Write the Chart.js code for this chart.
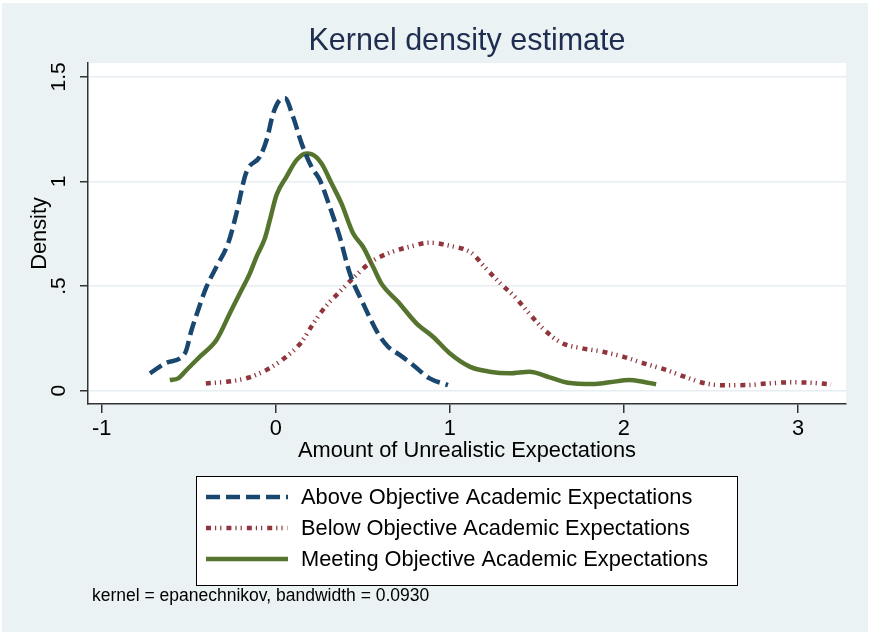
<!DOCTYPE html>
<html>
<head>
<meta charset="utf-8">
<title>Kernel density estimate</title>
<script src="https://cdn.jsdelivr.net/npm/chart.js@4.4.1/dist/chart.umd.min.js"></script>
<style>
  html, body { margin: 0; padding: 0; background: #ffffff; }
  canvas { display: block; }
</style>
</head>
<body>
<canvas id="kdensity" width="869" height="635"></canvas>
<script>
// density curves (x = amount, y = density)
const aboveX = [-0.723, -0.628, -0.522, -0.484, -0.446, -0.398, -0.341, -0.274, -0.226, -0.178,
    -0.159, -0.092, -0.053, -0.015, 0.023, 0.052, 0.099, 0.148, 0.205, 0.253,
    0.310, 0.367, 0.425, 0.501, 0.587, 0.645, 0.712, 0.788, 0.884, 0.989];
const aboveY = [0.083, 0.134, 0.179, 0.290, 0.386, 0.497, 0.592, 0.704, 0.848, 1.022,
    1.063, 1.118, 1.198, 1.325, 1.389, 1.397, 1.309, 1.182, 1.070, 1.007,
    0.879, 0.736, 0.561, 0.418, 0.274, 0.210, 0.171, 0.123, 0.059, 0.027];

const belowX = [-0.402, -0.279, -0.159, -0.048, 0.056, 0.144, 0.210, 0.281, 0.367, 0.453,
    0.549, 0.654, 0.769, 0.884, 1.009, 1.123, 1.206, 1.290, 1.382, 1.458,
    1.544, 1.640, 1.758, 1.879, 1.998, 2.113, 2.233, 2.348, 2.468, 2.587,
    2.711, 2.832, 2.955, 3.075, 3.190];
const belowY = [0.035, 0.043, 0.062, 0.102, 0.160, 0.229, 0.314, 0.397, 0.473, 0.545,
    0.616, 0.659, 0.688, 0.707, 0.691, 0.659, 0.585, 0.513, 0.441, 0.366,
    0.290, 0.229, 0.203, 0.186, 0.162, 0.131, 0.102, 0.067, 0.035, 0.026,
    0.027, 0.035, 0.040, 0.038, 0.030];

const meetingX = [-0.609, -0.561, -0.513, -0.436, -0.341, -0.264, -0.207, -0.149, -0.111, -0.063,
    -0.034, 0.004, 0.061, 0.119, 0.176, 0.205, 0.262, 0.320, 0.377, 0.444,
    0.501, 0.559, 0.606, 0.702, 0.808, 0.903, 0.999, 1.114, 1.228, 1.343,
    1.458, 1.573, 1.678, 1.822, 1.917, 2.032, 2.109, 2.185];
const meetingY = [0.051, 0.059, 0.099, 0.163, 0.242, 0.370, 0.465, 0.561, 0.640, 0.728,
    0.816, 0.935, 1.022, 1.102, 1.134, 1.131, 1.087, 0.991, 0.895, 0.752,
    0.688, 0.592, 0.513, 0.425, 0.322, 0.258, 0.179, 0.115, 0.091, 0.083,
    0.091, 0.064, 0.038, 0.032, 0.040, 0.051, 0.043, 0.031];

const seriesNames = [
    "Above Objective Academic Expectations",
    "Below Objective Academic Expectations",
    "Meeting Objective Academic Expectations",
];
const xTicks = [-1, 0, 1, 2, 3];
const yTicks = [0, 0.5, 1, 1.5];
const titleText = "Kernel density estimate";
const xTitle = "Amount of Unrealistic Expectations";
const yTitle = "Density";
const noteText = "kernel = epanechnikov, bandwidth = 0.0930";

const FONT = "'Liberation Sans', Arial, Helvetica, sans-serif";
const BG = "#eaf2f3";

// pair up x and y arrays into {x, y} points
function toPoints(xs, ys) {
    return xs.map((x, i) => ({ x: x, y: ys[i] }));
}

// stata-style number: .5 instead of 0.5
function stataNum(v) {
    return String(v).replace(/^0\./, ".").replace(/^-0\./, "-.");
}

const styles = [
    { color: "#1a476f", width: 4.5, dash: [14, 6] },
    { color: "#90353b", width: 4.5, dash: [5, 4, 1.2, 4, 1.2, 5] },
    { color: "#55752f", width: 4.5, dash: [] },
];

// background, plot region, title, legend box and note
const stataFrame = {
    id: "stataFrame",
    beforeDraw(chart) {
        const { ctx, chartArea } = chart;
        ctx.save();
        ctx.fillStyle = "#ffffff";
        ctx.fillRect(0, 0, chart.width, chart.height);
        ctx.fillStyle = BG;
        ctx.fillRect(2, 3, 866, 629);
        ctx.fillStyle = "#ffffff";
        ctx.fillRect(chartArea.left, chartArea.top,
            chartArea.right - chartArea.left, chartArea.bottom - chartArea.top);
        ctx.restore();
    },
    afterDraw(chart) {
        const { ctx, chartArea } = chart;
        ctx.save();
        // title
        ctx.fillStyle = "#1e2d50";
        ctx.font = "30.5px " + FONT;
        ctx.textAlign = "center";
        ctx.textBaseline = "middle";
        ctx.fillText(titleText, (chartArea.left + chartArea.right) / 2, 42);

        // legend
        const box = { x: 196, y: 476, w: 541, h: 109 };
        ctx.fillStyle = "#ffffff";
        ctx.fillRect(box.x, box.y, box.w, box.h);
        ctx.strokeStyle = "#000000";
        ctx.lineWidth = 1;
        ctx.strokeRect(box.x + 0.5, box.y + 0.5, box.w, box.h);
        const rows = [497, 528, 559];
        ctx.font = "21.8px " + FONT;
        ctx.textAlign = "left";
        rows.forEach((ry, i) => {
            const s = styles[i];
            ctx.beginPath();
            ctx.strokeStyle = s.color;
            ctx.lineWidth = s.width;
            ctx.lineCap = "butt";
            ctx.setLineDash(s.dash);
            ctx.moveTo(206, ry);
            ctx.lineTo(288, ry);
            ctx.stroke();
            ctx.setLineDash([]);
            ctx.fillStyle = "#000000";
            ctx.fillText(seriesNames[i], 301, ry + 1);
        });

        // note
        ctx.font = "17.5px " + FONT;
        ctx.fillStyle = "#000000";
        ctx.fillText(noteText, 92, 596);
        ctx.restore();
    },
};

const ctx = document.getElementById("kdensity").getContext("2d");

new Chart(ctx, {
    type: "scatter",
    data: {
        datasets: [
            { label: seriesNames[0], data: toPoints(aboveX, aboveY) },
            { label: seriesNames[1], data: toPoints(belowX, belowY) },
            { label: seriesNames[2], data: toPoints(meetingX, meetingY) },
        ].map((d, i) => ({
            ...d,
            showLine: true,
            borderColor: styles[i].color,
            borderWidth: styles[i].width,
            borderDash: styles[i].dash,
            borderCapStyle: "butt",
            pointRadius: 0,
            pointHoverRadius: 0,
            cubicInterpolationMode: "monotone",
            fill: false,
        })),
    },
    options: {
        responsive: false,
        animation: false,
        devicePixelRatio: 1,
        layout: {
            padding: { left: 3, top: 63, right: 23, bottom: 171 },
        },
        plugins: {
            legend: { display: false },
            tooltip: { enabled: false },
        },
        scales: {
            x: {
                type: "linear",
                min: -1.079,
                max: 3.276,
                afterBuildTicks: (scale) => {
                    scale.ticks = xTicks.map((v) => ({ value: v }));
                },
                afterFit: (scale) => {
                    scale.height = 60;
                },
                ticks: {
                    color: "#000000",
                    font: { family: FONT, size: 21.8 },
                    padding: 3,
                    maxRotation: 0,
                    callback: (v) => stataNum(v),
                },
                grid: {
                    drawOnChartArea: false,
                    tickLength: 9,
                    tickColor: "#333333",
                    lineWidth: 1.5,
                },
                border: { color: "#333333", width: 1.5 },
                title: {
                    display: true,
                    text: xTitle,
                    color: "#000000",
                    font: { family: FONT, size: 21.8 },
                    padding: { top: 2, bottom: 0 },
                },
            },
            y: {
                type: "linear",
                min: -0.0635,
                max: 1.566,
                afterBuildTicks: (scale) => {
                    scale.ticks = yTicks.map((v) => ({ value: v }));
                },
                afterFit: (scale) => {
                    scale.width = 85;
                },
                ticks: {
                    color: "#000000",
                    font: { family: FONT, size: 21 },
                    padding: 6,
                    minRotation: 90,
                    maxRotation: 90,
                    crossAlign: "center",
                    callback: (v) => stataNum(v),
                },
                grid: {
                    color: "#e6eef1",
                    lineWidth: 1.5,
                    tickLength: 8,
                    tickColor: "#333333",
                },
                border: { color: "#333333", width: 1.5 },
                title: {
                    display: true,
                    text: yTitle,
                    color: "#000000",
                    font: { family: FONT, size: 21.8 },
                    padding: { top: 24, bottom: 0 },
                },
            },
        },
    },
    plugins: [stataFrame],
});
</script>
</body>
</html>
